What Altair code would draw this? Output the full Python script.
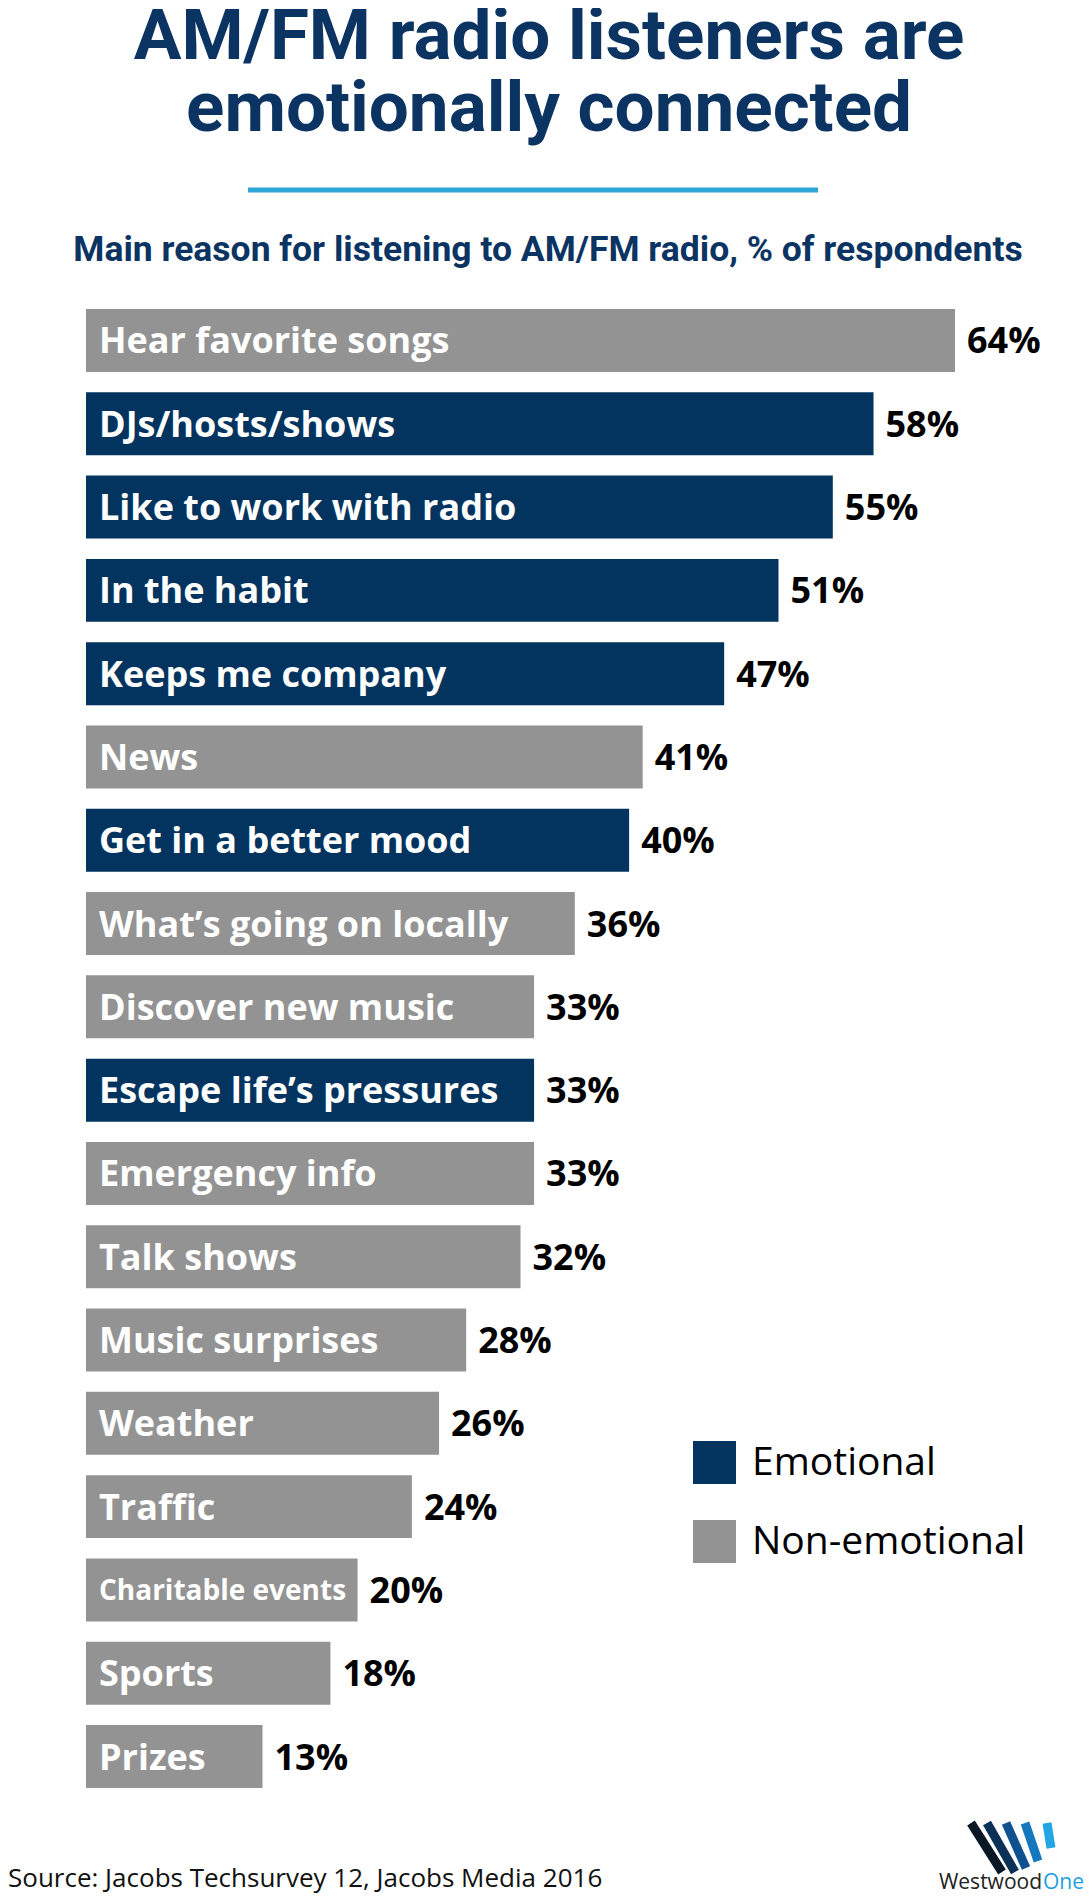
import altair as alt
import pandas as pd

reasons = [
    "Hear favorite songs", "DJs/hosts/shows", "Like to work with radio", "In the habit",
    "Keeps me company", "News", "Get in a better mood", "What’s going on locally",
    "Discover new music", "Escape life’s pressures", "Emergency info", "Talk shows",
    "Music surprises", "Weather", "Traffic", "Charitable events", "Sports", "Prizes",
]
values = [64, 58, 55, 51, 47, 41, 40, 36, 33, 33, 33, 32, 28, 26, 24, 20, 18, 13]
kinds = [
    "Non-emotional", "Emotional", "Emotional", "Emotional", "Emotional", "Non-emotional",
    "Emotional", "Non-emotional", "Non-emotional", "Emotional", "Non-emotional",
    "Non-emotional", "Non-emotional", "Non-emotional", "Non-emotional", "Non-emotional",
    "Non-emotional", "Non-emotional",
]
legend_labels = ["Emotional", "Non-emotional"]
bar_colors = ["#02345f", "#939393"]

title_lines = ["AM/FM radio listeners are", "emotionally connected"]
subtitle = "Main reason for listening to AM/FM radio, % of respondents"
source = "Source: Jacobs Techsurvey 12, Jacobs Media 2016"
logo_words = ["Westwood", "One"]

NAVY = "#0b3463"

df = pd.DataFrame({"reason": reasons, "value": values, "kind": kinds})

yenc = alt.Y("reason:N", sort=reasons, axis=None,
             scale=alt.Scale(range=[301, 1780], paddingInner=0.244, paddingOuter=0))
xscale = alt.Scale(domain=[0, 64], range=[78, 947], nice=False)

base = alt.Chart(df)

bars = base.mark_bar().encode(
    x=alt.X("value:Q", scale=xscale, axis=None),
    y=yenc,
    color=alt.Color(
        "kind:N",
        scale=alt.Scale(domain=legend_labels, range=bar_colors),
        legend=alt.Legend(
            title=None, orient="none", legendX=685, legendY=1433,
            symbolType="square", symbolSize=1849, symbolStrokeWidth=0,
            labelFontSize=39, labelFont="Open Sans", labelColor="black",
            labelOffset=16, rowPadding=36, padding=0, labelLimit=500,
        ),
    ),
)

inner = base.transform_calculate(
    fs="datum.reason === 'Charitable events' ? 28 : 36"
).mark_text(
    align="left", baseline="middle", dy=2, color="white",
    font="Open Sans", fontWeight="bold",
).encode(
    x=alt.value(91),
    y=yenc,
    text="reason:N",
    size=alt.Size("fs:Q", scale=None, legend=None),
)

vals = base.transform_calculate(
    label="datum.value + '%'"
).mark_text(
    align="left", baseline="middle", dx=12, dy=2, color="black",
    font="Open Sans", fontWeight="bold", fontSize=36,
).encode(
    x=alt.X("value:Q", scale=xscale, axis=None),
    y=yenc,
    text="label:N",
)

one = pd.DataFrame({"k": [0]})

def fixed_text(txt, x, y, **kw):
    return alt.Chart(one).mark_text(text=txt, baseline="alphabetic", **kw).encode(
        x=alt.value(x), y=alt.value(y)
    )

title1 = fixed_text(title_lines[0], 541, 51, align="center", font="Roboto",
                    fontWeight="bold", fontSize=71, color=NAVY)
title2 = fixed_text(title_lines[1], 541, 123, align="center", font="Roboto",
                    fontWeight="bold", fontSize=71, color=NAVY)

rule = alt.Chart(one).mark_rule(color="#2ea6d8", strokeWidth=5).encode(
    x=alt.value(240), x2=alt.value(810), y=alt.value(182)
)

sub = fixed_text(subtitle, 540, 253, align="center", font="Roboto",
                 fontWeight="bold", fontSize=35.5, color=NAVY)

src = fixed_text(source, 0, 1879, align="left", font="Open Sans", fontSize=26, color="#111111")

logo_o = fixed_text(logo_words[1], 1076, 1881, align="right", font="Open Sans",
                    fontSize=21, color="#1d9fe0")
logo_w = fixed_text(logo_words[0], 1034, 1881, align="right", font="Open Sans",
                    fontSize=21, color="#222222")

stripe_specs = [
    (963, 1815, 994, 1864, "#0a1825"),
    (979, 1815, 1007, 1864, "#0b3156"),
    (998, 1815, 1018, 1860, "#0f5190"),
    (1017, 1815, 1030, 1853, "#1577bd"),
    (1039, 1815, 1043, 1840, "#22a5e3"),
]
stripes = [
    alt.Chart(one).mark_rule(color=c, strokeWidth=9, strokeCap="butt").encode(
        x=alt.value(x1), y=alt.value(y1), x2=alt.value(x2), y2=alt.value(y2)
    )
    for (x1, y1, x2, y2, c) in stripe_specs
]

chart = alt.layer(
    bars, inner, vals, title1, title2, rule, sub, src, logo_w, logo_o, *stripes
).properties(
    width=1076, height=1887, autosize=alt.AutoSizeParams(type="none"), padding=0,
).configure_view(stroke=None)

chart.save("out.html", embed_options={"renderer": "svg", "actions": False})
